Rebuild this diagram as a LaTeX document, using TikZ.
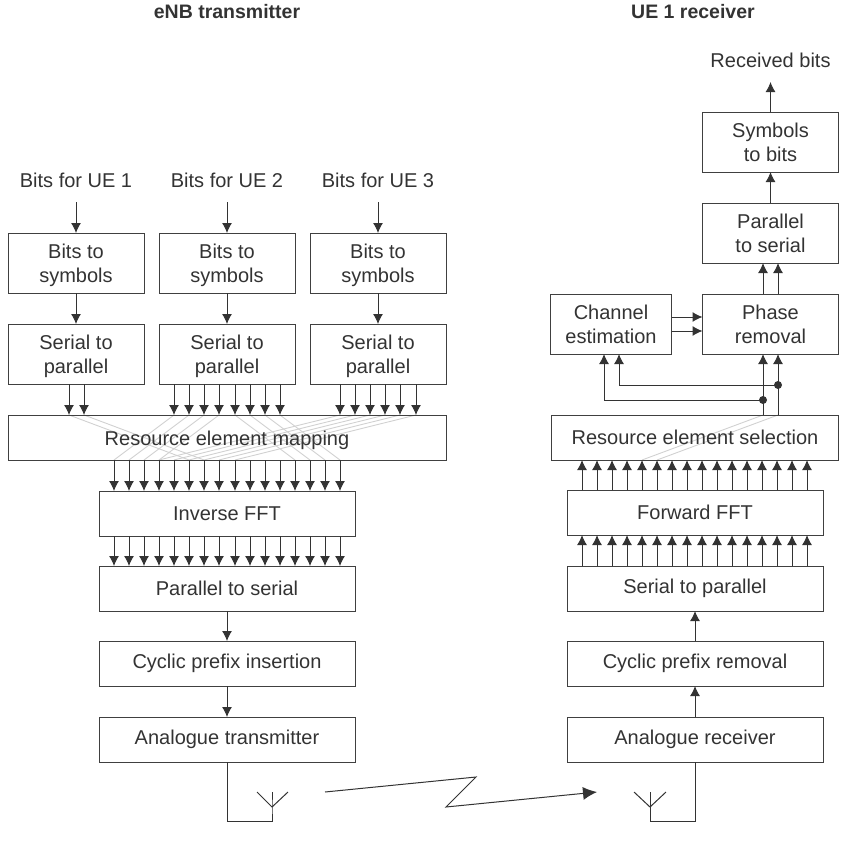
\documentclass[tikz,border=0pt]{standalone}
\usepackage{fontspec}
\setmainfont{Liberation Sans}
\usetikzlibrary{arrows.meta,positioning,backgrounds}
\newcommand\lowline{\rule{0pt}{20pt}}

\begin{document}
\begin{tikzpicture}[
  x=1pt, y=-1pt,
  font=\fontsize{20}{24}\selectfont,
  text=black!80,
  line width=1pt,
  box/.style={draw=black!75, align=center, inner sep=0pt, outer sep=0pt,
    minimum width=136pt, minimum height=60pt},
  wide/.style={box, minimum width=256pt, minimum height=45pt},
  full/.style={box, minimum width=#1, minimum height=45pt},
  lab/.style={inner sep=0pt, outer sep=0pt, minimum height=44pt},
  title/.style={inner sep=0pt, font=\fontsize{19.5}{24}\selectfont\bfseries},
  arr/.style={-{Latex[length=10pt,width=10pt]}, black!80},
  wire/.style={black!80},
  grey/.style={black!18, line width=0.9pt},
  dot/.style={circle, fill=black!80, inner sep=0pt, minimum size=8pt}
]
\useasboundingbox (0,0) rectangle (845,841);
% titles
\node[title] (ttx) at (227,12) {eNB transmitter};
\node[title] (trx) at (693,12) {UE 1 receiver};
% transmitter
\node[lab] (in1) at (76,180) {Bits for UE 1};
\node[lab] (in2) at (227,180) {Bits for UE 2};
\node[lab] (in3) at (378,180) {Bits for UE 3};
\node[box, below=31pt of in1] (sym1) {\lowline Bits to\\symbols};
\node[box, below=31pt of in2] (sym2) {\lowline Bits to\\symbols};
\node[box, below=31pt of in3] (sym3) {\lowline Bits to\\symbols};
\node[box, below=31pt of sym1] (sp1) {\lowline Serial to\\parallel};
\node[box, below=31pt of sym2] (sp2) {\lowline Serial to\\parallel};
\node[box, below=31pt of sym3] (sp3) {\lowline Serial to\\parallel};
\node[full=438pt, below=31pt of sp2] (map) {\lowline Resource element mapping};
\node[wide, below=31pt of map] (ifft) {Inverse FFT};
\node[wide, below=30pt of ifft] (ps) {Parallel to serial};
\node[wide, below=30pt of ps] (cpi) {Cyclic prefix insertion};
\node[wide, below=31pt of cpi] (atx) {Analogue transmitter};
% receiver
\node[wide] (arx) at (695,739.5) {Analogue receiver};
\node[wide, above=31pt of arx] (cpr) {Cyclic prefix removal};
\node[wide, above=30pt of cpr] (rsp) {Serial to parallel};
\node[wide, above=31pt of rsp] (fft) {Forward FFT};
\node[full=287pt, above=30pt of fft] (sel) {Resource element selection};
\node[box, above left=61pt and 0pt of sel.north east] (ph) {Phase\\removal};
\node[box, minimum width=121pt, left=31pt of ph] (che) {Channel\\estimation};
\node[box, above=31pt of ph] (prs) {Parallel\\to serial};
\node[box, above=31pt of prs] (sb) {Symbols\\to bits};
\node[lab, above=30pt of sb] (out) {Received bits};
% straight arrows
\draw[arr] (in1)--(sym1); \draw[arr] (in2)--(sym2); \draw[arr] (in3)--(sym3);
\draw[arr] (sym1)--(sp1); \draw[arr] (sym2)--(sp2); \draw[arr] (sym3)--(sp3);
\draw[arr] (ps)--(cpi); \draw[arr] (cpi)--(atx);
\draw[arr] (arx)--(cpr); \draw[arr] (cpr)--(rsp);
\draw[arr] (prs)--(sb); \draw[arr] (sb)--(out);
% parallel arrows
\foreach \x in {69,84}
  \draw[arr] (sp1.south -| \x,0) -- (map.north -| \x,0);
\foreach \x in {174,189,204,219,235,250,265,280}
  \draw[arr] (sp2.south -| \x,0) -- (map.north -| \x,0);
\foreach \x in {340,355,370,385,400,416}
  \draw[arr] (sp3.south -| \x,0) -- (map.north -| \x,0);
\foreach \x in {114,129,144,159,174,189,204,219,235,250,265,280,295,310,325,340} {
  \draw[arr] (map.south -| \x,0) -- (ifft.north -| \x,0);
  \draw[arr] (ifft.south -| \x,0) -- (ps.north -| \x,0);
}
\foreach \x in {582,597,612,627,642,657,672,687,702,717,732,747,762,777,792,807} {
  \draw[arr] (rsp.north -| \x,0) -- (fft.south -| \x,0);
  \draw[arr] (fft.north -| \x,0) -- (sel.south -| \x,0);
}
% crossing lines
\begin{scope}[on background layer]
\foreach \a/\b in {69/189,84/204,174/114,189/129,204/144,219/159,235/295,250/310,265/325,280/340,
    340/159,355/174,370/189,385/204,400/219,416/235}
  \draw[grey] (map.north -| \a,0) -- (map.south -| \b,0);
\foreach \a/\b in {763/642,778/657}
  \draw[grey] (sel.north -| \a,0) -- (sel.south -| \b,0);
\end{scope}
% phase removal and channel estimation
\draw[arr] (sel.north -| 763,0) -- (ph.south -| 763,0);
\draw[arr] (sel.north -| 778,0) -- (ph.south -| 778,0);
\draw[arr] (ph.north -| 763,0) -- (prs.south -| 763,0);
\draw[arr] (ph.north -| 778,0) -- (prs.south -| 778,0);
\draw[arr] (che.east |- 0,317) -- (ph.west |- 0,317);
\draw[arr] (che.east |- 0,331) -- (ph.west |- 0,331);
\node[dot] (j1) at (763,400) {};
\node[dot] (j2) at (778,385) {};
\draw[arr] (j1.center) -| (che.south -| 604,0);
\draw[arr] (j2.center) -| (che.south -| 619,0);
% antennas and radio link
\coordinate (ant1) at (272,807);
\coordinate (ant2) at (650,807);
\draw[wire] (atx.south) |- (272,821) -- (ant1) -- (272,792);
\draw[wire] (257,792) -- (ant1) -- (288,792);
\draw[wire] (arx.south) |- (650,821) -- (ant2) -- (650,792);
\draw[wire] (634,792) -- (ant2) -- (666,792);
\coordinate (l1) at (325,792);
\coordinate (l2) at (597,792);
\draw[arr, -{Latex[length=14pt,width=13pt]}] (l1) -- (476,777) -- (446,807) -- (l2);
\end{tikzpicture}
\end{document}
